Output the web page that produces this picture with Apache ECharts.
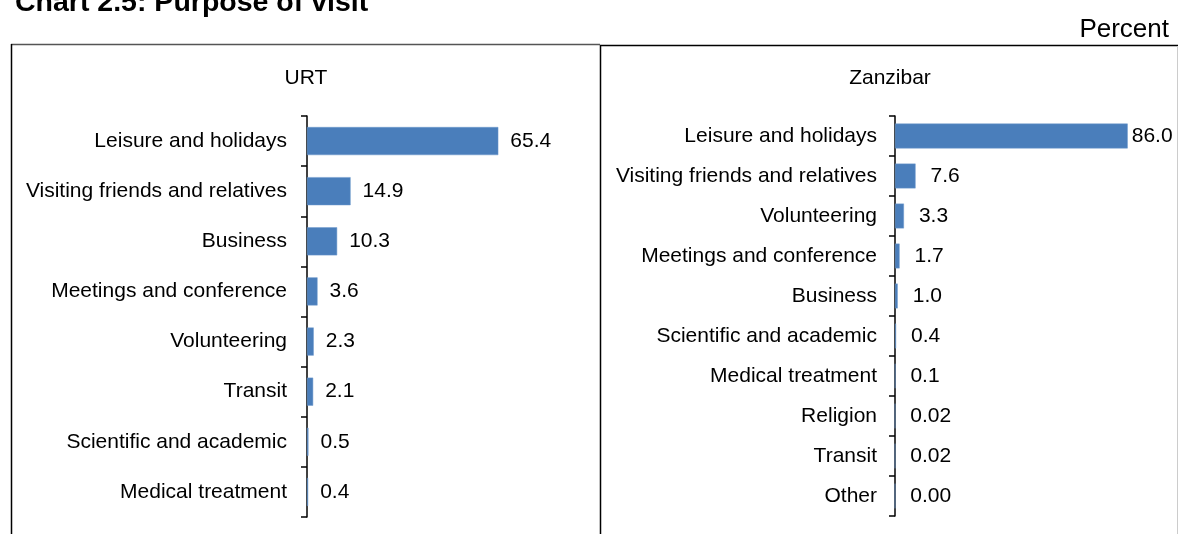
<!DOCTYPE html>
<html>
<head>
<meta charset="utf-8">
<script src="https://cdn.jsdelivr.net/npm/echarts@6/dist/echarts.min.js"></script>
<style>
html,body{margin:0;padding:0;background:#fff;}
#chart{width:1179px;height:534px;}
</style>
</head>
<body>
<div id="chart"></div>
<script>
const chartTitle = 'Chart 2.5: Purpose of visit';
const unitLabel = 'Percent';
const urtTitle = 'URT';
const urtCategories = ['Leisure and holidays','Visiting friends and relatives','Business','Meetings and conference','Volunteering','Transit','Scientific and academic','Medical treatment'];
const urtValues = [65.4, 14.9, 10.3, 3.6, 2.3, 2.1, 0.5, 0.4];
const znzTitle = 'Zanzibar';
const znzCategories = ['Leisure and holidays','Visiting friends and relatives','Volunteering','Meetings and conference','Business','Scientific and academic','Medical treatment','Religion','Transit','Other'];
const znzValues = [86.0, 7.6, 3.3, 1.7, 1.0, 0.4, 0.1, 0.02, 0.02, 0.00];

const FONT = 'Liberation Sans, Arial, Helvetica, sans-serif';
const FS = 21;
const barColor = '#4a7ebb';

function fmtZ(v){ return v >= 0.05 ? v.toFixed(1) : v.toFixed(2); }

const chart = echarts.init(document.getElementById('chart'), null, {renderer:'canvas'});

function yAx(gi, cats, margin){
  return {
    type:'category', gridIndex:gi, data:cats, inverse:true,
    axisLine:{show:true, lineStyle:{color:'#000', width:1.5}},
    axisTick:{show:true, length:6, lineStyle:{color:'#000', width:1.5}},
    axisLabel:{color:'#000', fontSize:FS, fontFamily:FONT, margin:margin}
  };
}
function xAx(gi){
  return {type:'value', gridIndex:gi, min:0, max:100, show:false, splitLine:{show:false}};
}

const znzData = znzValues.map((v,i)=> i===0 ? {value:v, label:{distance:4}} : v);

chart.setOption({
  animation:false,
  backgroundColor:'#fff',
  textStyle:{fontFamily:FONT},
  grid:[
    {left:307, top:116, width:292.5, height:401},
    {left:895, top:116, width:270.6, height:400}
  ],
  xAxis:[xAx(0), xAx(1)],
  yAxis:[yAx(0, urtCategories, 20), yAx(1, znzCategories, 18)],
  series:[
    {type:'bar', xAxisIndex:0, yAxisIndex:0, data:urtValues, barCategoryGap:'44%',
     itemStyle:{color:barColor, borderColor:'#6d98cc', borderWidth:0.5},
     label:{show:true, position:'right', distance:12, color:'#000', fontSize:FS, fontFamily:FONT,
            formatter:p=>p.value.toFixed(1)}},
    {type:'bar', xAxisIndex:1, yAxisIndex:1, data:znzData, barCategoryGap:'38%',
     itemStyle:{color:barColor, borderColor:'#6d98cc', borderWidth:0.5},
     label:{show:true, position:'right', distance:15, color:'#000', fontSize:FS, fontFamily:FONT,
            formatter:p=>fmtZ(p.value)}}
  ],
  graphic:[
    {type:'text', left:15, top:-11, style:{text:chartTitle, font:'bold 28.5px ' + FONT, fill:'#000'}},
    {type:'text', x:1169, y:30, style:{text:unitLabel, fontSize:26, fontFamily:FONT, fill:'#000', align:'right', verticalAlign:'middle'}},
    {type:'text', x:306, y:78, style:{text:urtTitle, fontSize:FS, fontFamily:FONT, fill:'#000', align:'center', verticalAlign:'middle'}},
    {type:'text', x:890, y:78, style:{text:znzTitle, fontSize:FS, fontFamily:FONT, fill:'#000', align:'center', verticalAlign:'middle'}},
    {type:'line', shape:{x1:11, y1:44.5, x2:600, y2:44.5}, style:{stroke:'#555', lineWidth:1.5}},
    {type:'line', shape:{x1:11.5, y1:44, x2:11.5, y2:540}, style:{stroke:'#000', lineWidth:1.5}},
    {type:'line', shape:{x1:600, y1:45.5, x2:1178, y2:45.5}, style:{stroke:'#000', lineWidth:1.5}},
    {type:'line', shape:{x1:600.5, y1:45, x2:600.5, y2:540}, style:{stroke:'#000', lineWidth:1.5}},
    {type:'line', shape:{x1:1177.5, y1:46, x2:1177.5, y2:540}, style:{stroke:'#ccc', lineWidth:1}}
  ]
});
</script>
</body>
</html>
